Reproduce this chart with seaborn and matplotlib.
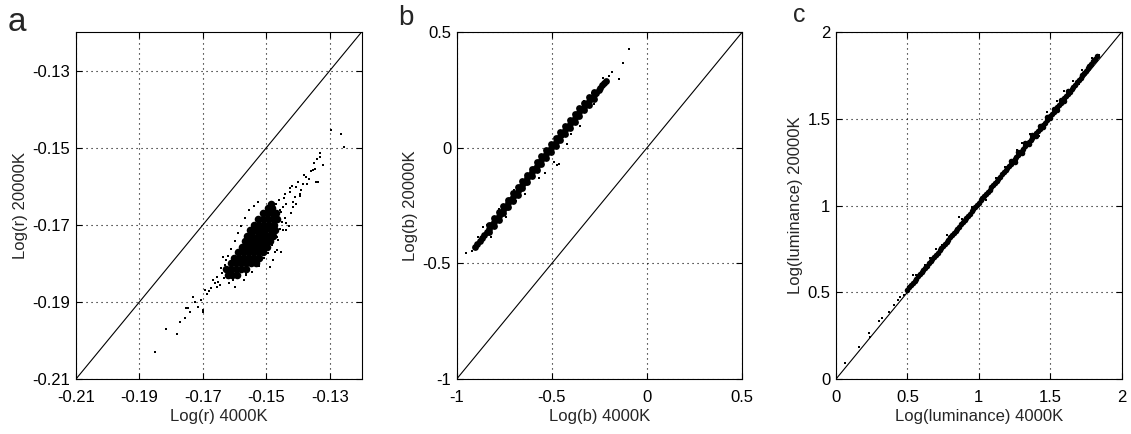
import matplotlib
matplotlib.use("Agg")
import matplotlib.pyplot as plt
import seaborn as sns

# ---------------- data ----------------
# panel a : Log(r)
a_lims = [-0.21, -0.12]
a_ticks = [-0.21, -0.19, -0.17, -0.15, -0.13]
a_ticklabels = ["-0.21", "-0.19", "-0.17", "-0.15", "-0.13"]
a_core_x = [-0.1622, -0.1608, -0.1594,
            -0.1626, -0.1612, -0.1596, -0.1580, -0.1565,
            -0.1612, -0.1596, -0.1580, -0.1564, -0.1548, -0.1534,
            -0.1602, -0.1586, -0.1570, -0.1554, -0.1538, -0.1523,
            -0.1590, -0.1574, -0.1558, -0.1542, -0.1526, -0.1511,
            -0.1578, -0.1562, -0.1546, -0.1530, -0.1514, -0.1498,
            -0.1568, -0.1552, -0.1536, -0.1520, -0.1504, -0.1488,
            -0.1560, -0.1544, -0.1528, -0.1512, -0.1496, -0.1479,
            -0.1551, -0.1535, -0.1519, -0.1503, -0.1487, -0.1472,
            -0.1540, -0.1524, -0.1508, -0.1492, -0.1477,
            -0.1528, -0.1512, -0.1496, -0.1480, -0.1468,
            -0.1512, -0.1497, -0.1482, -0.1470,
            -0.1494, -0.1482,
            -0.1486]
a_core_y = [-0.1830, -0.1830, -0.1830,
            -0.1815, -0.1815, -0.1815, -0.1815, -0.1815,
            -0.1800, -0.1800, -0.1800, -0.1800, -0.1800, -0.1800,
            -0.1785, -0.1785, -0.1785, -0.1785, -0.1785, -0.1785,
            -0.1770, -0.1770, -0.1770, -0.1770, -0.1770, -0.1770,
            -0.1757, -0.1757, -0.1757, -0.1757, -0.1757, -0.1757,
            -0.1743, -0.1743, -0.1743, -0.1743, -0.1743, -0.1743,
            -0.1728, -0.1728, -0.1728, -0.1728, -0.1728, -0.1728,
            -0.1714, -0.1714, -0.1714, -0.1714, -0.1714, -0.1714,
            -0.1700, -0.1700, -0.1700, -0.1700, -0.1700,
            -0.1685, -0.1685, -0.1685, -0.1685, -0.1685,
            -0.1670, -0.1670, -0.1670, -0.1670,
            -0.1657, -0.1657,
            -0.1646]
a_sparse_x = [-0.1332, -0.1322, -0.1343, -0.1353, -0.1374, -0.1385, -0.1406, -0.1411,
              -0.1427, -0.1437, -0.1421, -0.1437, -0.1448, -0.1463, -0.1458, -0.1406,
              -0.1453, -0.1468, -0.1479, -0.1490, -0.1626, -0.1637, -0.1642, -0.1657,
              -0.1668, -0.1647, -0.1673, -0.1694, -0.1705, -0.1715, -0.1726, -0.1699,
              -0.1741, -0.1752, -0.1563, -0.1605, -0.1747, -0.1757, -0.1773, -0.1815,
              -0.1783, -0.1851, -0.1731, -0.1699, -0.1295, -0.1264, -0.1254, -0.1332,
              -0.1348, -0.1338, -0.1437, -0.1474, -0.1563, -0.1600, -0.1657, -0.1395,
              -0.1365, -0.1445, -0.1415, -0.1460,
              -0.1640, -0.1632, -0.1622, -0.1612, -0.1600, -0.1590, -0.1580, -0.1568,
              -0.1555, -0.1540, -0.1528,
              -0.1570, -0.1545, -0.1522, -0.1506, -0.1494, -0.1482, -0.1466, -0.1456,
              -0.1450, -0.1455, -0.1440, -0.1430, -0.1470, -0.1460, -0.1488,
              -0.1440, -0.1420, -0.1400, -0.1390, -0.1380, -0.1360, -0.1350, -0.1340,
              -0.1415, -0.1395, -0.1425, -0.1448, -0.1372,
              -0.1652, -0.1662, -0.1680, -0.1688, -0.1635, -0.1618]
a_sparse_y = [-0.1515, -0.1545, -0.1588, -0.1558, -0.1576, -0.1593, -0.1601, -0.1627,
              -0.1614, -0.1645, -0.1670, -0.1696, -0.1714, -0.1740, -0.1662, -0.1645,
              -0.1770, -0.1765, -0.1791, -0.1809, -0.1791, -0.1783, -0.1813, -0.1835,
              -0.1843, -0.1856, -0.1865, -0.1869, -0.1895, -0.1913, -0.1900, -0.1925,
              -0.1925, -0.1917, -0.1830, -0.1843, -0.1917, -0.1943, -0.1951, -0.1969,
              -0.1982, -0.2029, -0.1887, -0.1921, -0.1453, -0.1465, -0.1498, -0.1524,
              -0.1554, -0.1588, -0.1714, -0.1770, -0.1826, -0.1861, -0.1861, -0.1620,
              -0.1580, -0.1630, -0.1655, -0.1690,
              -0.1825, -0.1805, -0.1782, -0.1762, -0.1742, -0.1722, -0.1702, -0.1682,
              -0.1662, -0.1650, -0.1642,
              -0.1842, -0.1822, -0.1806, -0.1787, -0.1772, -0.1752, -0.1732, -0.1712,
              -0.1692, -0.1667, -0.1682, -0.1702, -0.1646, -0.1636, -0.1652,
              -0.1620, -0.1600, -0.1590, -0.1610, -0.1570, -0.1560, -0.1540, -0.1530,
              -0.1640, -0.1625, -0.1605, -0.1655, -0.1595,
              -0.1848, -0.1852, -0.1872, -0.1880, -0.1838, -0.1850]

# panel b : Log(b)
b_lims = [-1.0, 0.5]
b_ticks = [-1.0, -0.5, 0.0, 0.5]
b_ticklabels = ["-1", "-0.5", "0", "0.5"]
b_core_x = [-0.905, -0.88, -0.855, -0.83, -0.805, -0.78, -0.755, -0.73, -0.705, -0.68,
            -0.655, -0.63, -0.605, -0.58, -0.555, -0.53, -0.505, -0.48, -0.455, -0.43,
            -0.405, -0.38, -0.355, -0.33, -0.305, -0.28, -0.255, -0.235, -0.215,
            -0.8925, -0.8675, -0.8425, -0.8175, -0.7925, -0.7675, -0.7425, -0.7175, -0.6925,
            -0.6675, -0.6425, -0.6175, -0.5925, -0.5675, -0.5425, -0.5175, -0.4925, -0.4675,
            -0.4425, -0.4175, -0.3925, -0.3675, -0.3425, -0.3175, -0.2925, -0.2675, -0.245, -0.225,
            -0.83, -0.78, -0.73, -0.68, -0.63, -0.58, -0.53, -0.48, -0.43, -0.38, -0.33, -0.28,
            -0.805, -0.755, -0.705, -0.655, -0.605, -0.555, -0.505, -0.455, -0.405, -0.355, -0.305,
            -0.83, -0.78, -0.73, -0.68, -0.63, -0.58, -0.53, -0.48, -0.43, -0.38, -0.33, -0.28,
            -0.805, -0.755, -0.705, -0.655, -0.605, -0.555, -0.505, -0.455, -0.405, -0.355, -0.305]
b_core_y = [-0.428, -0.402, -0.376, -0.350, -0.322, -0.295, -0.268, -0.241, -0.214, -0.187,
            -0.160, -0.133, -0.106, -0.080, -0.054, -0.028, -0.002, 0.024, 0.050, 0.076,
            0.102, 0.128, 0.154, 0.178, 0.202, 0.226, 0.250, 0.270, 0.288,
            -0.415, -0.389, -0.363, -0.336, -0.3085, -0.2815, -0.2545, -0.2275, -0.2005,
            -0.1735, -0.1465, -0.1195, -0.093, -0.067, -0.041, -0.015, 0.011, 0.037,
            0.063, 0.089, 0.115, 0.141, 0.166, 0.190, 0.214, 0.238, 0.260, 0.279,
            -0.334, -0.279, -0.225, -0.171, -0.117, -0.064, -0.012, 0.040, 0.092, 0.144, 0.194, 0.242,
            -0.306, -0.252, -0.198, -0.144, -0.090, -0.038, 0.014, 0.066, 0.118, 0.170, 0.218,
            -0.366, -0.311, -0.257, -0.203, -0.149, -0.096, -0.044, 0.008, 0.060, 0.112, 0.162, 0.210,
            -0.338, -0.284, -0.230, -0.176, -0.122, -0.070, -0.018, 0.034, 0.086, 0.138, 0.186]
b_sparse_x = [-0.953, -0.094, -0.126, -0.147, -0.183, -0.474, -0.534, -0.463,
              -0.86, -0.78, -0.70, -0.62, -0.58, -0.40, -0.33, -0.28, -0.25,
              -0.69, -0.55, -0.45, -0.36, -0.92, -0.89, -0.20, -0.23, -0.31,
              -0.84, -0.76, -0.66, -0.60, -0.52, -0.44, -0.37, -0.29, -0.82, -0.74,
              -0.64, -0.57, -0.49, -0.42, -0.35, -0.26]
b_sparse_y = [-0.457, 0.425, 0.365, 0.296, 0.329, -0.075, -0.111, -0.072,
              -0.345, -0.265, -0.185, -0.155, -0.060, 0.060, 0.200, 0.190, 0.250,
              -0.230, -0.030, 0.070, 0.170, -0.445, -0.385, 0.310, 0.300, 0.175,
              -0.335, -0.262, -0.150, -0.110, -0.036, 0.048, 0.128, 0.236, -0.385, -0.300,
              -0.200, -0.130, -0.060, 0.018, 0.092, 0.228]

# panel c : Log(luminance)
c_lims = [0.0, 2.0]
c_ticks = [0.0, 0.5, 1.0, 1.5, 2.0]
c_ticklabels = ["0", "0.5", "1", "1.5", "2"]
c_core_x = [0.50, 0.525, 0.55, 0.575, 0.60, 0.625, 0.65, 0.675, 0.70, 0.725, 0.75, 0.775,
            0.80, 0.825, 0.85, 0.875, 0.90, 0.925, 0.95, 0.975, 1.00, 1.025, 1.05, 1.075,
            1.10, 1.125, 1.15, 1.175, 1.20, 1.225, 1.25, 1.275, 1.30, 1.325, 1.35, 1.375,
            1.40, 1.425, 1.45, 1.475, 1.50, 1.525, 1.55, 1.575, 1.60, 1.625, 1.65, 1.675,
            1.70, 1.725, 1.75, 1.775, 1.80, 1.825,
            0.5125, 0.5375, 0.5625, 0.5875, 0.6125, 0.6375, 0.6625, 0.6875, 0.7125, 0.7375,
            0.7625, 0.7875, 0.8125, 0.8375, 0.8625, 0.8875, 0.9125, 0.9375, 0.9625, 0.9875,
            1.0125, 1.0375, 1.0625, 1.0875, 1.1125, 1.1375, 1.1625, 1.1875, 1.2125, 1.2375,
            1.2625, 1.2875, 1.3125, 1.3375, 1.3625, 1.3875, 1.4125, 1.4375, 1.4625, 1.4875,
            1.5125, 1.5375, 1.5625, 1.5875, 1.6125, 1.6375, 1.6625, 1.6875, 1.7125, 1.7375,
            1.7625, 1.7875, 1.8125,
            1.225, 1.275, 1.325, 1.375, 1.425, 1.475, 1.525, 1.575, 1.625,
            1.25, 1.30, 1.35, 1.40, 1.45, 1.50, 1.55, 1.60]
c_core_y = [0.515, 0.540, 0.566, 0.591, 0.616, 0.641, 0.666, 0.691, 0.716, 0.741, 0.766, 0.791,
            0.816, 0.841, 0.866, 0.891, 0.916, 0.941, 0.966, 0.991, 1.017, 1.042, 1.067, 1.092,
            1.117, 1.142, 1.167, 1.192, 1.217, 1.242, 1.266, 1.291, 1.316, 1.341, 1.366, 1.391,
            1.416, 1.441, 1.466, 1.491, 1.516, 1.541, 1.566, 1.592, 1.618, 1.644, 1.670, 1.697,
            1.723, 1.750, 1.777, 1.804, 1.832, 1.860,
            0.5275, 0.553, 0.5785, 0.6035, 0.6285, 0.6535, 0.6785, 0.7035, 0.7285, 0.7535,
            0.7785, 0.8035, 0.8285, 0.8535, 0.8785, 0.9035, 0.9285, 0.9535, 0.9785, 1.004,
            1.0295, 1.0545, 1.0795, 1.1045, 1.1295, 1.1545, 1.1795, 1.2045, 1.2295, 1.254,
            1.2785, 1.3035, 1.3285, 1.3535, 1.3785, 1.4035, 1.4285, 1.4535, 1.4785, 1.5035,
            1.5285, 1.5535, 1.579, 1.605, 1.631, 1.657, 1.6835, 1.71, 1.7365, 1.7635,
            1.7905, 1.818, 1.846,
            1.259, 1.308, 1.358, 1.408, 1.458, 1.508, 1.558, 1.609, 1.661,
            1.253, 1.303, 1.353, 1.403, 1.453, 1.503, 1.553, 1.605]
c_sparse_x = [0.065, 0.159, 0.229, 0.236, 0.30, 0.323, 0.374, 0.409, 0.433, 0.45, 0.479,
              0.538, 0.56, 0.62, 0.70, 0.78, 0.858, 0.95, 1.05, 1.18, 1.30, 1.42, 1.60,
              1.72, 1.79, 1.84, 1.70, 1.55, 0.66, 0.74, 0.88, 1.12, 1.27, 1.36, 1.48, 1.66]
c_sparse_y = [0.094, 0.186, 0.263, 0.245, 0.335, 0.350, 0.388, 0.426, 0.455, 0.470, 0.484,
              0.599, 0.600, 0.660, 0.750, 0.830, 0.935, 0.990, 1.030, 1.220, 1.360, 1.400, 1.660,
              1.780, 1.850, 1.870, 1.700, 1.600, 0.700, 0.775, 0.920, 1.160, 1.320, 1.410, 1.540, 1.720]

panels = [
    dict(core=(a_core_x, a_core_y), sparse=(a_sparse_x, a_sparse_y), lims=a_lims,
         ticks=a_ticks, labels=a_ticklabels, xlabel="Log(r) 4000K", ylabel="Log(r) 20000K",
         core_s=30),
    dict(core=(b_core_x, b_core_y), sparse=(b_sparse_x, b_sparse_y), lims=b_lims,
         ticks=b_ticks, labels=b_ticklabels, xlabel="Log(b) 4000K", ylabel="Log(b) 20000K",
         core_s=24),
    dict(core=(c_core_x, c_core_y), sparse=(c_sparse_x, c_sparse_y), lims=c_lims,
         ticks=c_ticks, labels=c_ticklabels, xlabel="Log(luminance) 4000K",
         ylabel="Log(luminance) 20000K", core_s=16),
]

# ---------------- figure ----------------
sns.set_style("ticks")
plt.rcParams["font.family"] = ["Liberation Sans", "DejaVu Sans"]
plt.rcParams["font.size"] = 12

fig = plt.figure(figsize=(11.31, 4.34), dpi=100)
lefts = [0.0672, 0.4038, 0.7392]
width, bottom, height = 0.2525, 0.1267, 0.7995

for left, p in zip(lefts, panels):
    ax = fig.add_axes([left, bottom, width, height])
    ax.axline((p["lims"][0], p["lims"][0]), slope=1, color="black", lw=0.8, zorder=1)
    sns.scatterplot(x=p["core"][0], y=p["core"][1], ax=ax, s=p["core_s"], color="black",
                    linewidth=0, marker="o", zorder=3)
    sns.scatterplot(x=p["sparse"][0], y=p["sparse"][1], ax=ax, s=3.5, color="black",
                    linewidth=0, marker="s", zorder=3)
    ax.set_xlim(p["lims"])
    ax.set_ylim(p["lims"])
    ax.set_xticks(p["ticks"])
    ax.set_yticks(p["ticks"])
    ax.set_xticklabels(p["labels"])
    ax.set_yticklabels(p["labels"])
    ax.grid(True, color="black", linestyle=(0, (1, 3.5)), linewidth=0.8)
    ax.set_axisbelow(True)
    ax.tick_params(direction="in", top=True, right=True, length=4, width=0.8,
                   labelsize=12, colors="black")
    ax.tick_params(axis="x", pad=8)
    ax.tick_params(axis="y", pad=4)
    for sp in ax.spines.values():
        sp.set_visible(True)
        sp.set_color("black")
        sp.set_linewidth(0.8)
    ax.set_xlabel(p["xlabel"], fontsize=12, labelpad=3)
    ax.set_ylabel(p["ylabel"], fontsize=12, labelpad=3)

fig.text(0.007, 0.9286, "a", fontsize=24, ha="left", va="baseline")
fig.text(0.352, 0.9424, "b", fontsize=20, ha="left", va="baseline")
fig.text(0.701, 0.9493, "c", fontsize=18, ha="left", va="baseline")

fig.savefig("out.png", dpi=100, facecolor="white")
